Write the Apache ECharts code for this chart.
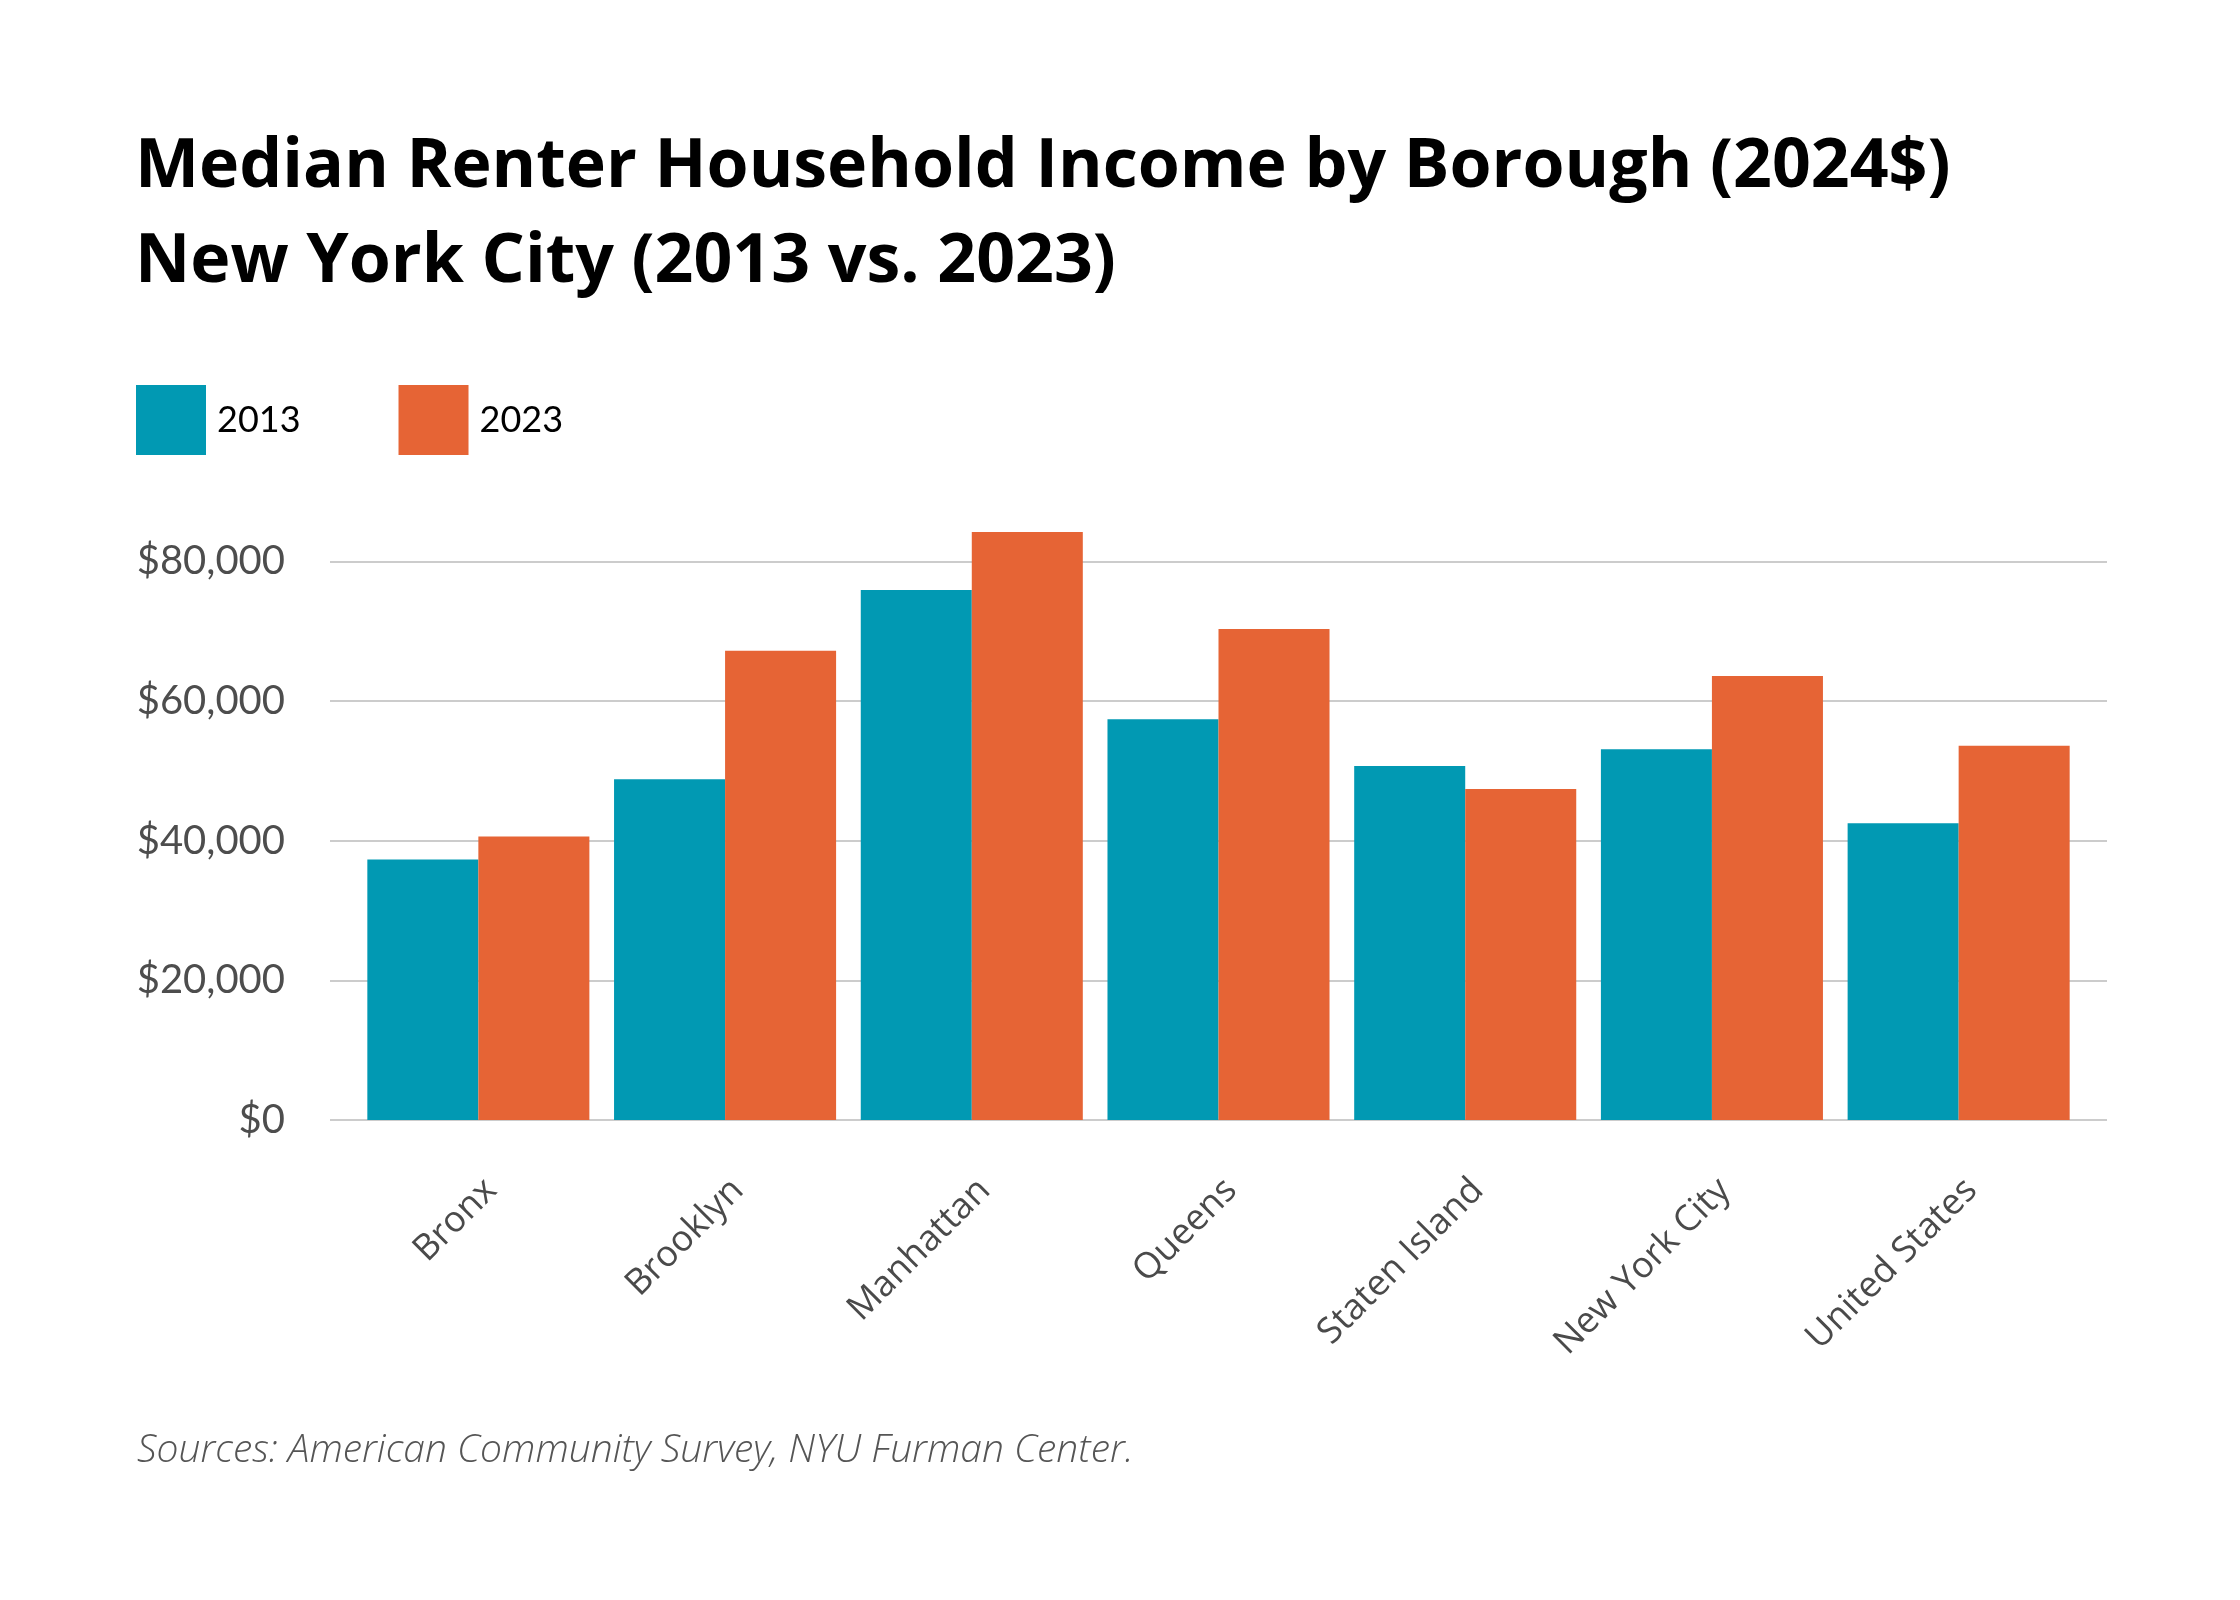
<!DOCTYPE html>
<html>
<head>
<meta charset="utf-8">
<script src="https://cdn.jsdelivr.net/npm/echarts@6/dist/echarts.min.js"></script>
<style>
  html, body { margin: 0; padding: 0; background: #fff; }
  #chart { width: 2240px; height: 1600px; }
</style>
</head>
<body>
<div id="chart"></div>
<script>
var boroughs = ['Bronx', 'Brooklyn', 'Manhattan', 'Queens', 'Staten Island', 'New York City', 'United States'];
var income2013 = [37300, 48800, 75900, 57400, 50700, 53100, 42500];
var income2023 = [40600, 67200, 84200, 70300, 47400, 63600, 53600];
var yTicks = [0, 20000, 40000, 60000, 80000];

var dom = document.getElementById('chart');
var myChart = echarts.init(dom);

var teal = '#0199b3';
var orange = '#e66435';

function money(v) {
    return '$' + v.toLocaleString('en-US');
}

var option = {
    backgroundColor: '#fff',
    animation: false,
    title: [
        {
            text: 'Median Renter Household Income by Borough (2024$)\nNew York City (2013 vs. 2023)',
            left: 130,
            top: 115,
            textStyle: {
                fontFamily: 'Open Sans',
                fontWeight: 'bold',
                fontSize: 68,
                lineHeight: 95,
                color: '#000'
            }
        },
        {
            text: 'Sources: American Community Survey, NYU Furman Center.',
            left: 132,
            top: 1426,
            textStyle: {
                fontFamily: 'Open Sans',
                fontStyle: 'italic',
                fontWeight: 300,
                fontSize: 39,
                color: '#555'
            }
        }
    ],
    legend: {
        left: 136,
        top: 385,
        padding: 0,
        icon: 'rect',
        itemWidth: 70,
        itemHeight: 70,
        itemGap: 98,
        textStyle: {
            fontFamily: 'Lato',
            fontSize: 36,
            color: '#000',
            padding: [0, 0, 0, 6]
        },
        data: ['2013', '2023']
    },
    grid: [
        { left: 355, right: 158, top: 505.5, bottom: 480 },
        { left: 330, right: 133, top: 505.5, bottom: 480 }
    ],
    xAxis: [
        {
            type: 'category',
            gridIndex: 0,
            data: boroughs,
            axisLine: { show: false },
            axisTick: { show: false },
            axisLabel: {
                rotate: 45,
                margin: 52,
                verticalAlign: 'top',
                fontFamily: 'Open Sans',
                fontSize: 36,
                color: '#4a4a4a'
            }
        },
        { type: 'value', gridIndex: 1, show: false, min: 0, max: 1 }
    ],
    yAxis: [
        {
            type: 'value',
            gridIndex: 0,
            min: 0,
            max: 88000,
            interval: 20000,
            axisLabel: { show: false },
            axisLine: { show: false },
            axisTick: { show: false },
            splitLine: { show: false }
        },
        {
            type: 'value',
            gridIndex: 1,
            min: 0,
            max: 88000,
            interval: 20000,
            axisLine: { show: false },
            axisTick: { show: false },
            axisLabel: {
                margin: 45,
                showMaxLabel: false,
                fontFamily: 'Lato',
                fontSize: 40,
                color: '#4d4d4d',
                formatter: function (v) {
                    return yTicks.indexOf(v) >= 0 ? money(v) : '';
                }
            },
            splitLine: {
                show: true,
                showMaxLine: false,
                lineStyle: { color: '#cccccc', width: 2 }
            }
        }
    ],
    series: [
        {
            name: '2013',
            type: 'bar',
            xAxisIndex: 0,
            yAxisIndex: 0,
            data: income2013,
            barGap: '0%',
            barCategoryGap: '10%',
            itemStyle: { color: teal },
            z: 3
        },
        {
            name: '2023',
            type: 'bar',
            xAxisIndex: 0,
            yAxisIndex: 0,
            data: income2023,
            barGap: '0%',
            barCategoryGap: '10%',
            itemStyle: { color: orange },
            z: 3
        }
    ]
};

myChart.setOption(option, true);
</script>
</body>
</html>
